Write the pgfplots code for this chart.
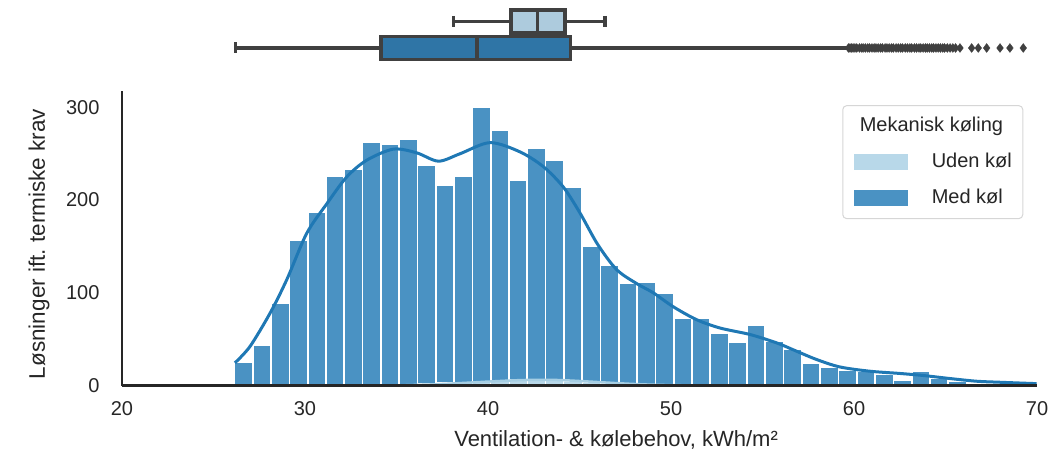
\documentclass[border=0pt]{standalone}
\usepackage{fontspec}
\setmainfont{Liberation Sans}
\usepackage{pgfplots}
\pgfplotsset{compat=1.18}
\definecolor{darkbar}{RGB}{74,146,195}
\definecolor{lightbar}{RGB}{184,216,233}
\definecolor{kdedark}{RGB}{31,120,180}
\definecolor{kdelight}{RGB}{166,206,227}
\definecolor{boxdark}{RGB}{47,117,166}
\definecolor{boxlight}{RGB}{173,203,221}
\definecolor{boxline}{RGB}{64,64,64}
\definecolor{spine}{RGB}{38,38,38}
\definecolor{legframe}{RGB}{214,214,214}
\begin{document}
\begin{tikzpicture}
\useasboundingbox (0,0) rectangle (1053bp,466bp);
\begin{axis}[at={(122bp,80.5bp)}, anchor=south west,
  width=915bp, height=294.5bp, scale only axis,
  xmin=20, xmax=70, ymin=0, ymax=317.7,
  axis x line=bottom, axis y line=left,
  axis line style={-, draw=spine, line width=2.8bp},
  axis on top, major tick length=0pt,
  xtick={20,30,40,50,60,70}, ytick={0,100,200,300},
  tick label style={font=\fontsize{20bp}{24bp}\selectfont, text=spine},
  /pgf/number format/assume math mode=true,
  xticklabel style={yshift=-13bp},
  yticklabel style={xshift=-19bp},
  xlabel={Ventilation- \& kølebehov, kWh/m²},
  xlabel style={at={(axis description cs:0.54,-0.185)}, anchor=center, font=\fontsize{22bp}{26bp}\selectfont, text=spine},
  ylabel={Løsninger ift.\ termiske krav},
  ylabel style={at={(axis description cs:-0.0907,0.4805)}, anchor=center, font=\fontsize{22.5bp}{26bp}\selectfont, text=spine},
  legend style={at={(0.985,0.952)}, anchor=north east, draw=legframe, rounded corners=4bp, line width=1bp, fill=white,
    font=\fontsize{20bp}{24bp}\selectfont, text=spine, inner xsep=11bp, inner ysep=11bp, row sep=17bp,
    nodes={inner sep=0bp, text height=15bp, text depth=4bp},
    /tikz/every odd column/.append style={column sep=24bp}},
  legend cell align=left,
]
\addplot[ybar interval, fill=darkbar, draw=white, line width=1.7bp, forget plot] coordinates {
(26.15,25) (27.15,44) (28.15,89) (29.15,157) (30.15,187) (31.15,226) (32.15,233) (33.15,262) (34.15,260) (35.15,266)
(36.15,238) (37.15,216) (38.15,226) (39.15,300) (40.15,276) (41.15,221) (42.15,256) (43.15,243) (44.15,214) (45.15,150)
(46.15,130) (47.15,110) (48.15,111) (49.15,100) (50.15,73) (51.15,73) (52.15,57) (53.15,47) (54.15,65) (55.15,48)
(56.15,39) (57.15,24) (58.15,20) (59.15,17) (60.15,15) (61.15,12.6) (62.15,5.7) (63.15,15) (64.15,8) (65.15,4.6)
(66.15,3) (67.15,2) (68.15,1) (69.15,1)};
\addplot[ybar interval, fill=lightbar, draw=white, line width=1bp, forget plot] coordinates {
(35.15,1) (36.15,2) (37.15,3) (38.15,3.5) (39.15,4) (40.15,5) (41.15,7) (42.15,6) (43.15,6) (44.15,4)
(45.15,3) (46.15,2) (47.15,1) (48.15,1) (49.15,1)};
\addplot[smooth, draw=kdedark, line width=3bp, forget plot] coordinates {
(26.17,24.4) (26.99,42) (28.09,78) (29.0,114) (30.09,164) (31.19,196) (32.28,225) (33.37,243) (34.83,255) (36.1,251)
(37.29,242) (38.47,250) (40.11,262) (41.75,252) (43.03,236) (44.12,214) (45.03,186) (46.0,152) (47.03,125) (48.12,110)
(49.03,100) (50.12,85) (51.4,71) (52.68,62) (54.32,55) (55.77,46) (56.86,37) (57.96,28) (59.23,20) (60.87,15.4)
(62.5,13) (63.78,10.8) (65.25,7.5) (66.7,4.6) (67.98,3.5) (69.98,2)};
\addplot[smooth, draw=kdelight, line width=2.5bp, forget plot] coordinates {
(35.5,0.3) (37,1.2) (38.5,2.6) (40,4.2) (41.5,5.6) (42.8,6.2) (44,5.8) (45.5,4.3) (47,2.6) (48.5,1.2) (50,0.4) (52,0.05)};
\addlegendimage{empty legend}
\addlegendentry{\hspace*{-72bp}Mekanisk køling}
\addlegendimage{legend image code/.code={\fill[lightbar, sharp corners] (0bp,-7.75bp) rectangle (53bp,7.75bp);}}
\addlegendentry{Uden køl}
\addlegendimage{legend image code/.code={\fill[darkbar, sharp corners] (0bp,-7.75bp) rectangle (53bp,7.75bp);}}
\addlegendentry{Med køl}
\end{axis}
\begin{axis}[at={(122bp,400bp)}, anchor=south west,
  width=915bp, height=66bp, scale only axis,
  xmin=20, xmax=70, ymin=0, ymax=66, y dir=reverse,
  hide axis, clip=false]
% Uden køl box
\addplot[draw=boxline, line width=3.3bp] coordinates {(38.1,21.5) (41.25,21.5)};
\addplot[draw=boxline, line width=3.3bp] coordinates {(44.2,21.5) (46.4,21.5)};
\addplot[draw=boxline, line width=3.3bp] coordinates {(38.1,16) (38.1,27)};
\addplot[draw=boxline, line width=3.3bp] coordinates {(46.4,16) (46.4,27)};
\addplot[draw=boxline, fill=boxlight, line width=3.3bp] coordinates {(41.25,10) (44.2,10) (44.2,33) (41.25,33)} --cycle;
\addplot[draw=boxline, line width=3.3bp] coordinates {(42.7,10) (42.7,33)};
% Med køl box
\addplot[draw=boxline, line width=3.3bp] coordinates {(26.2,48) (34.15,48)};
\addplot[draw=boxline, line width=3.3bp] coordinates {(44.5,48) (59.7,48)};
\addplot[draw=boxline, line width=3.3bp] coordinates {(26.2,42.5) (26.2,53.5)};
\addplot[draw=boxline, fill=boxdark, line width=3.3bp] coordinates {(34.15,36.5) (44.5,36.5) (44.5,59.5) (34.15,59.5)} --cycle;
\addplot[draw=boxline, line width=3.3bp] coordinates {(39.4,36.5) (39.4,59.5)};
\addplot[only marks, mark=diamond*, mark size=4.5bp, mark options={fill=boxline, draw=boxline, line width=0.3bp}] coordinates {
(59.70,48) (59.78,48) (59.86,48) (59.95,48) (60.05,48) (60.15,48) (60.30,48) (60.42,48) (60.50,48) (60.62,48)
(60.75,48) (60.85,48) (60.98,48) (61.10,48) (61.20,48) (61.32,48) (61.45,48) (61.55,48) (61.70,48) (61.80,48)
(61.92,48) (62.05,48) (62.15,48) (62.30,48) (62.42,48) (62.55,48) (62.65,48) (62.80,48) (62.92,48) (63.05,48)
(63.15,48) (63.30,48) (63.42,48) (63.55,48) (63.65,48) (63.78,48) (63.90,48) (64.00,48) (64.12,48) (64.25,48)
(64.35,48) (64.48,48) (64.60,48) (64.72,48) (64.85,48) (64.95,48) (65.10,48) (65.25,48) (65.40,48) (65.55,48)
(65.79,48) (66.43,48) (66.79,48) (67.25,48) (67.98,48) (68.52,48) (69.25,48)};
\end{axis}
\end{tikzpicture}
\end{document}
